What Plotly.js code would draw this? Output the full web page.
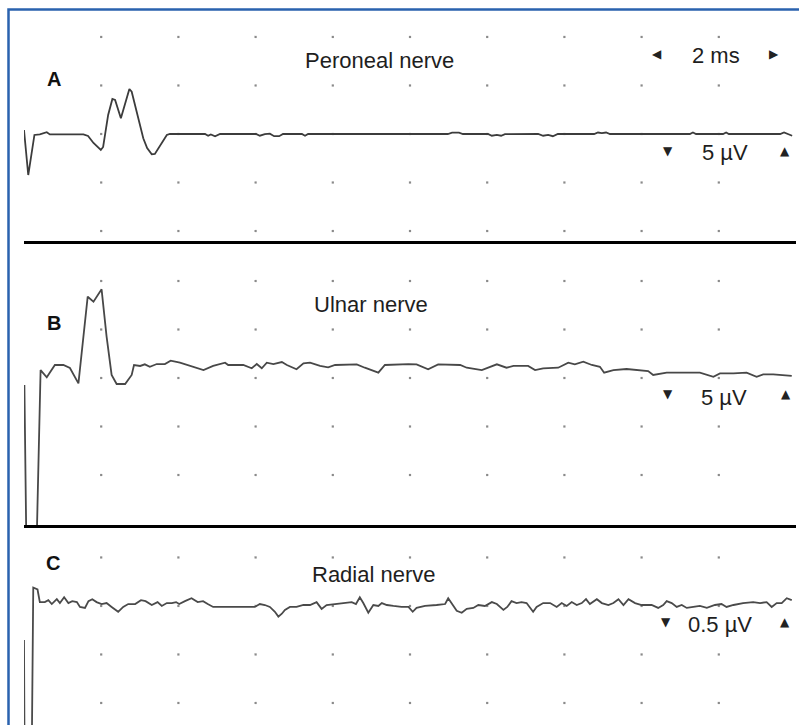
<!DOCTYPE html>
<html>
<head>
<meta charset="utf-8">
<script src="https://cdn.plot.ly/plotly-3.0.1.min.js"></script>
<style>html,body{margin:0;padding:0;background:#fff;}#chart{width:799px;height:725px;}</style>
</head>
<body>
<div id="chart"></div>
<script>
// ---- Data (time in ms, amplitude in µV) ----
const peronealT = [0,0.11,0.27,0.41,0.59,0.67,1.54,1.66,1.80,1.99,2.05,2.10,2.18,2.29,2.36,2.51,2.64,2.73,2.79,2.88,2.96,3.09,3.19,3.31,3.39,3.52,3.70,3.78,4.69,4.77,4.84,4.95,5.08,6.01,6.11,6.24,6.37,6.48,6.61,6.71,7.20,7.28,7.36,10.98,11.09,11.27,11.37,12.02,12.12,12.25,12.36,12.46,13.32,13.45,13.58,13.70,13.83,14.77,14.87,14.97,15.08,15.18,17.25,17.33,17.41,18.11,18.19,18.26,19.59,19.69,19.79,19.90];
const peronealV = [0.41,-4.23,-0.10,-0.05,0.18,-0.05,-0.05,-0.21,-0.93,-1.65,-1.34,-0.10,1.96,3.61,3.51,1.62,3.51,4.64,4.36,2.99,1.62,-0.44,-1.44,-2.09,-2.06,-1.24,-0.10,0,0,-0.18,-0.05,-0.23,0,0,-0.18,-0.02,0.03,-0.23,-0.23,0,0,-0.18,0,0,0.13,0.13,0,0,-0.18,-0.1,-0.18,-0.02,0,-0.18,-0.1,-0.23,0,0,0.15,0.08,0.15,0,0,0.15,0,0,0.15,0,0,0.15,0.03,-0.18];

const ulnarT = [0.01,0.07,0.31,0.43,0.59,0.80,1.02,1.19,1.41,1.54,1.65,1.80,2.01,2.14,2.27,2.40,2.62,2.79,2.85,3.01,3.13,3.26,3.44,3.65,3.80,4.04,4.39,4.65,4.90,5.21,5.29,5.68,5.90,6.03,6.16,6.29,6.46,6.68,6.81,7.06,7.24,7.41,7.67,7.88,8.06,8.36,8.62,8.83,9.01,9.18,9.35,9.66,9.96,10.17,10.47,10.73,11.30,11.47,11.86,12.25,12.50,12.68,13.06,13.24,13.45,13.84,14.10,14.27,14.49,14.71,14.92,15.03,15.27,15.61,15.96,16.17,16.30,16.65,17.08,17.51,17.86,18.03,18.38,18.72,18.98,19.15,19.41,19.67,19.89];
const ulnarV = [-0.72,-20,-20,0.82,0.07,1.34,1.34,1.03,-0.55,3.92,8.38,7.87,9.14,4.26,0.31,-0.62,-0.62,0.31,1.34,1.24,1.41,1.16,1.44,1.44,1.78,1.58,1.16,0.82,1.24,1.58,1.34,1.34,1.00,1.44,1.00,1.58,1.44,1.65,1.34,0.90,1.52,1.58,1.24,1.10,1.34,1.41,1.41,1.06,0.82,0.55,1.34,1.41,1.44,1.41,0.90,1.41,1.34,1.06,0.82,1.41,1.06,1.24,1.24,0.82,1.00,1.06,1.58,1.41,1.68,1.34,1.16,0.55,0.82,0.93,0.75,0.72,0.31,0.55,0.55,0.55,0.13,0.48,0.48,0.55,0.13,0.38,0.38,0.31,0.21];

const radialT = [0.00,0.02,0.19,0.24,0.35,0.41,0.54,0.63,0.72,0.85,0.93,1.04,1.15,1.25,1.37,1.45,1.58,1.67,1.77,1.88,2.01,2.14,2.27,2.44,2.57,2.70,2.88,3.03,3.15,3.31,3.46,3.57,3.70,3.83,3.94,4.02,4.17,4.34,4.50,4.64,4.76,4.90,5.98,6.11,6.24,6.37,6.50,6.59,6.68,6.76,6.89,7.06,7.24,7.41,7.58,7.71,7.84,8.10,8.32,8.49,8.60,8.70,8.79,8.92,9.05,9.18,9.27,9.40,9.57,9.78,9.96,10.07,10.17,10.39,10.69,10.91,10.99,11.08,11.21,11.34,11.47,11.64,11.77,11.94,12.12,12.25,12.42,12.52,12.63,12.76,12.89,13.02,13.19,13.28,13.45,13.63,13.80,13.93,14.06,14.19,14.32,14.45,14.56,14.66,14.84,14.97,15.14,15.27,15.40,15.53,15.66,15.83,16.00,16.26,16.43,16.56,16.65,16.78,16.91,17.04,17.17,17.34,17.51,17.69,17.90,18.07,18.20,18.38,18.63,18.89,19.07,19.24,19.37,19.50,19.63,19.76,19.89];
const radialV = [-0.35,-2,-2,0.19,0.17,0.04,0.04,0.06,0.02,0.07,0.03,0.09,0.03,0.05,0.04,-0.01,-0.02,0.05,0.07,0.04,0.02,0.03,-0.01,-0.06,-0.01,0.02,0.02,0.06,0.05,0.01,0.04,0.00,0.03,0.03,0.04,0.02,0.05,0.08,0.04,0.05,0.02,-0.01,-0.01,0.02,0.01,-0.01,-0.06,-0.11,-0.08,-0.04,-0.01,-0.01,0.01,0.01,0.04,-0.03,0.01,0.02,0.03,0.04,0.02,0.09,0.03,-0.07,0.01,0.00,0.03,0.01,0.00,-0.01,-0.01,-0.06,-0.02,0.00,0.01,0.02,0.08,0.03,-0.05,-0.07,-0.03,-0.02,0.01,0.00,0.04,0.02,-0.04,-0.01,0.05,0.03,0.04,0.03,-0.06,-0.01,0.03,0.03,-0.01,0.03,0.00,0.04,0.01,0.03,0.07,0.02,0.07,0.03,0.01,0.03,0.07,0.01,0.07,0.03,0.01,0.01,-0.02,0.01,0.05,0.03,-0.01,0.01,-0.02,-0.01,0.00,-0.02,0.01,0.02,-0.01,0.01,0.03,0.04,0.03,0.04,-0.01,0.03,0.03,0.08,0.06];

// grid divisions: 2 ms per division; 5 µV (A,B) and 0.5 µV (C) per division
const gridTimes = [2,4,6,8,10,12,14,16,18];
const gridLevelsA = [-10,-5,0,5,10];
const gridLevelsB = [-10,-5,0,5,10];
const gridLevelsC = [-1,-0.5,0,0.5];

const panelNames = ["Peroneal nerve","Ulnar nerve","Radial nerve"];
const panelLetters = ["A","B","C"];
const timeScaleLabel = "2 ms";
const ampScaleLabels = ["5 µV","5 µV","0.5 µV"];

// ---- helpers ----
const W = 799, H = 725;
const px = x => x / W;
const py = y => 1 - y / H;

function gridTrace(levels, xa, ya){
  const xs = [], ys = [];
  gridTimes.forEach(t => levels.forEach(v => { xs.push(t); ys.push(v); }));
  return {x: xs, y: ys, xaxis: xa, yaxis: ya, mode: 'markers', type: 'scatter',
    hoverinfo: 'skip', showlegend: false,
    marker: {symbol: 'square', size: 2.2, color: '#8a8a8a', line: {width: 0}}};
}
function waveTrace(t, v, xa, ya, color){
  return {x: t, y: v, xaxis: xa, yaxis: ya, mode: 'lines', type: 'scatter',
    hoverinfo: 'skip', showlegend: false,
    line: {color: color, width: 1.8, shape: 'linear'}};
}

const data = [
  gridTrace(gridLevelsA, 'x', 'y'),
  gridTrace(gridLevelsB, 'x2', 'y2'),
  gridTrace(gridLevelsC, 'x3', 'y3'),
  waveTrace(peronealT, peronealV, 'x', 'y', '#3c3c3c'),
  waveTrace(ulnarT, ulnarV, 'x2', 'y2', '#484848'),
  waveTrace(radialT, radialV, 'x3', 'y3', '#4a4a4a')
];

const xDomain = [24/W, 796/W];
function xAxis(anchor, line){
  return {domain: xDomain, range: [0,20], anchor: anchor, showgrid: false, zeroline: false,
    showticklabels: false, ticks: '', showline: line, linecolor: '#000', linewidth: 3, fixedrange: true};
}
function yAxis(d0, d1, r){
  return {domain: [d0, d1], range: r, showgrid: false, zeroline: false, showticklabels: false,
    ticks: '', showline: false, fixedrange: true};
}

const txtFont = {family: 'Liberation Sans, Arial, sans-serif', size: 22, color: '#1e1e1e'};
const letterFont = {family: 'Liberation Sans, Arial, sans-serif', size: 20, color: '#111', weight: 'bold'};
const triFont = {family: 'DejaVu Sans, sans-serif', size: 12, color: '#222'};

function ann(text, x, y, font){
  return {text: text, x: px(x), y: py(y), xref: 'paper', yref: 'paper', showarrow: false,
    xanchor: 'center', yanchor: 'middle', font: font};
}

const annotations = [
  ann('<b>'+panelLetters[0]+'</b>', 54, 79, letterFont),
  ann('<b>'+panelLetters[1]+'</b>', 54, 323, letterFont),
  ann('<b>'+panelLetters[2]+'</b>', 53, 563, letterFont),
  ann(panelNames[0], 379, 61, txtFont),
  ann(panelNames[1], 371, 304, txtFont),
  ann(panelNames[2], 374, 574, txtFont),
  ann(timeScaleLabel, 716, 56, txtFont),
  ann('◀', 657, 54, triFont),
  ann('▶', 774, 54, triFont),
  ann(ampScaleLabels[0], 725, 152, txtFont),
  ann('▼', 668, 151, triFont),
  ann('▲', 785, 151, triFont),
  ann(ampScaleLabels[1], 724, 397, txtFont),
  ann('▼', 668, 394, triFont),
  ann('▲', 786, 394, triFont),
  ann(ampScaleLabels[2], 720, 624, txtFont),
  ann('▼', 666, 622, triFont),
  ann('▲', 785, 622, triFont)
];

const layout = {
  width: W, height: H,
  margin: {l: 0, r: 0, t: 0, b: 0, pad: 0},
  paper_bgcolor: '#ffffff', plot_bgcolor: 'rgba(0,0,0,0)',
  showlegend: false,
  xaxis: xAxis('y', true),
  xaxis2: xAxis('y2', true),
  xaxis3: xAxis('y3', false),
  yaxis: yAxis(py(241), 1, [-11.03, 13.81]),
  yaxis2: yAxis(py(525), py(241), [-15.155, 14.124]),
  yaxis3: yAxis(0, py(527), [-1.227, 0.814]),
  annotations: annotations,
  shapes: [{type: 'rect', xref: 'paper', yref: 'paper', x0: px(8.5), x1: 1.1, y0: -0.1, y1: py(9.5),
    line: {color: '#2a62ae', width: 2.5}, fillcolor: 'rgba(0,0,0,0)', layer: 'above'}]
};

Plotly.newPlot('chart', data, layout, {staticPlot: true, displayModeBar: false});
</script>
</body>
</html>
